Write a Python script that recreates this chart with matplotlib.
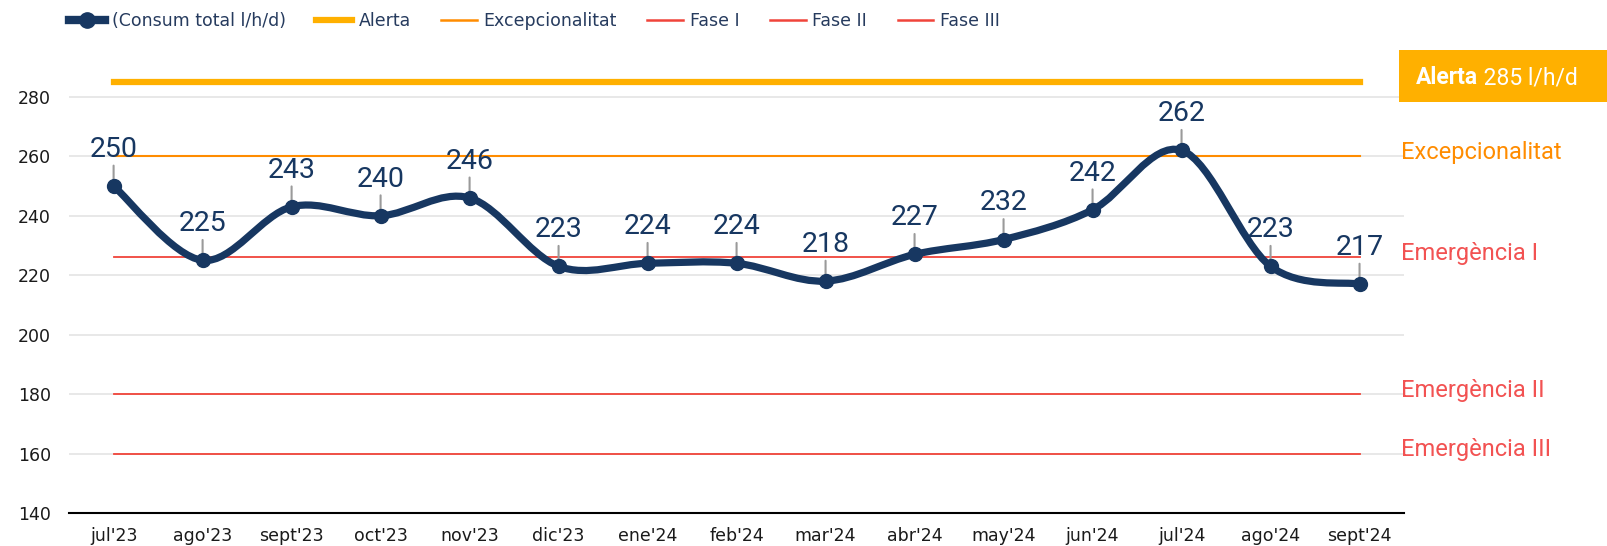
import matplotlib.pyplot as plt
from matplotlib.path import Path
from matplotlib.patches import PathPatch, Rectangle
from matplotlib.lines import Line2D
import matplotlib.transforms as mtransforms

# data
months = ["jul'23", "ago'23", "sept'23", "oct'23", "nov'23", "dic'23", "ene'24", "feb'24",
          "mar'24", "abr'24", "may'24", "jun'24", "jul'24", "ago'24", "sept'24"]
consum = [250, 225, 243, 240, 246, 223, 224, 224, 218, 227, 232, 242, 262, 223, 217]
alerta = 285
excepcionalitat = 260
fase_1 = 226
fase_2 = 180
fase_3 = 160

navy = '#173761'
amber = '#FFB000'
orange = '#FF8C00'
red = '#F0443A'
red_txt = '#F25252'

fig = plt.figure(figsize=(16.07, 5.46), dpi=100)
ax = fig.add_axes([0.043, 0.0604, 0.8307, 0.8276])

x = list(range(len(months)))

# smooth line (cubic bezier through the points, like excel's smoothed line)
verts = [(x[0], consum[0])]
codes = [Path.MOVETO]
n = len(x)
for i in range(n - 1):
    p0 = (x[max(i - 1, 0)], consum[max(i - 1, 0)])
    p1 = (x[i], consum[i])
    p2 = (x[i + 1], consum[i + 1])
    p3 = (x[min(i + 2, n - 1)], consum[min(i + 2, n - 1)])
    c1 = (p1[0] + (p2[0] - p0[0]) / 6, p1[1] + (p2[1] - p0[1]) / 6)
    c2 = (p2[0] - (p3[0] - p1[0]) / 6, p2[1] - (p3[1] - p1[1]) / 6)
    verts += [c1, c2, p2]
    codes += [Path.CURVE4] * 3
ax.add_patch(PathPatch(Path(verts, codes), facecolor='none', edgecolor=navy,
                       lw=5.2, capstyle='round', joinstyle='round', zorder=5))
ax.plot(x, consum, linestyle='none', marker='o', ms=10, color=navy, zorder=6)

# threshold lines
ax.plot([x[0], x[-1]], [alerta, alerta], color=amber, lw=4.5, zorder=3)
ax.plot([x[0], x[-1]], [excepcionalitat] * 2, color=orange, lw=1.5, zorder=3)
for v in (fase_1, fase_2, fase_3):
    ax.plot([x[0], x[-1]], [v, v], color=red, lw=1.3, zorder=3)

# data labels
for i, v in zip(x, consum):
    ax.annotate(str(v), xy=(i, v), xytext=(0, 21), textcoords='offset points',
                ha='center', va='baseline', fontsize=20.5, color=navy, family='Roboto',
                arrowprops=dict(arrowstyle='-', color='#9a9a9a', lw=1.5,
                                shrinkA=0, shrinkB=0), zorder=4)

ax.set_xlim(-0.5, len(months) - 0.5)
ax.set_ylim(140, 292)
ax.set_yticks(range(140, 281, 20))
ax.set_xticks(x)
ax.set_xticklabels(months)
ax.grid(axis='y', color='#e6e6e6', lw=1.3)
ax.set_axisbelow(True)
for s in ['left', 'right', 'top']:
    ax.spines[s].set_visible(False)
ax.spines['bottom'].set_color('black')
ax.spines['bottom'].set_linewidth(1.5)
ax.tick_params(axis='both', length=0, labelsize=12.5, colors='#1a1a1a')
ax.tick_params(axis='y', pad=13)
ax.tick_params(axis='x', pad=10)

# right side labels
trans = mtransforms.blended_transform_factory(ax.transAxes, ax.transData)
for v, lab, c in [(excepcionalitat, 'Excepcionalitat', orange), (fase_1, 'Emergència I', red_txt),
                  (fase_2, 'Emergència II', red_txt), (fase_3, 'Emergència III', red_txt)]:
    ax.text(0.998, v + 1.3, lab, transform=trans, ha='left', va='center',
            fontsize=17, color=c, family='Roboto')

# alerta box
fig.patches.append(Rectangle((1399 / 1607, 1 - 102 / 546), 208 / 1607, 52 / 546,
                             transform=fig.transFigure, facecolor=amber, edgecolor='none'))
t1 = fig.text(1416 / 1607, 1 - 78 / 546, 'Alerta', ha='left', va='center', fontsize=16.5,
              fontweight='bold', color='white', family='Roboto')
fig.canvas.draw()
bb = t1.get_window_extent()
fig.text(bb.x1 / fig.bbox.width, 1 - 78 / 546, ' 285 l/h/d', ha='left', va='center',
         fontsize=16.5, color='white', family='Roboto')

# legend
handles = [
    Line2D([], [], color=navy, lw=6, marker='o', ms=11),
    Line2D([], [], color=amber, lw=4.5),
    Line2D([], [], color=orange, lw=1.8),
    Line2D([], [], color=red, lw=1.8),
    Line2D([], [], color=red, lw=1.8),
    Line2D([], [], color=red, lw=1.8),
]
labels = ['(Consum total l/h/d)', 'Alerta', 'Excepcionalitat', 'Fase I', 'Fase II', 'Fase III']
leg = fig.legend(handles, labels, ncol=6, loc='center left', bbox_to_anchor=(69 / 1607, 1 - 21 / 546),
                 frameon=False, fontsize=12.5, handlelength=2.05, handletextpad=0.4,
                 columnspacing=1.75, borderpad=0, borderaxespad=0)
for t in leg.get_texts():
    t.set_color('#263B5E')

fig.savefig('out.png', dpi=100)
